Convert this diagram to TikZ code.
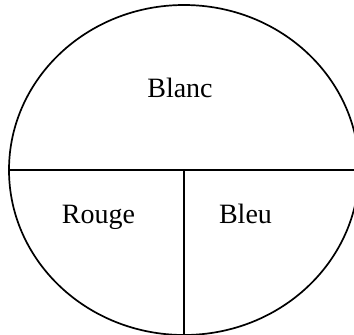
\documentclass[tikz,border=0pt]{standalone}
\usepackage{fontspec}
\setmainfont{Liberation Serif}
\tikzset{
  part/.style={line width=1.7pt},
  zone/.style={font=\fontsize{28}{32}\selectfont,anchor=base,inner sep=0pt}
}
\begin{document}
\begin{tikzpicture}[x=1pt,y=-1pt]
    \useasboundingbox(0,0)rectangle(354,335);
    \clip(0,0)rectangle(354,335);
    \fill[white](0,0)rectangle(354,335);
    \draw[part](184,170)ellipse[x radius=175,y radius=165];
    % dividing lines
    \coordinate(west)at(9,170);\coordinate(east)at(359,170);
    \coordinate(mid)at(184,170);\coordinate(south)at(184,336);
    \draw[part](west)--(east);
    \draw[part](mid)--(south);
    % labels
    \node[zone](blanc)at(180,97){Blanc};
    \node[zone](rouge)at(98.5,223){Rouge};
    \node[zone](bleu)at(245.5,223){Bleu};
  \end{tikzpicture}
\end{document}
